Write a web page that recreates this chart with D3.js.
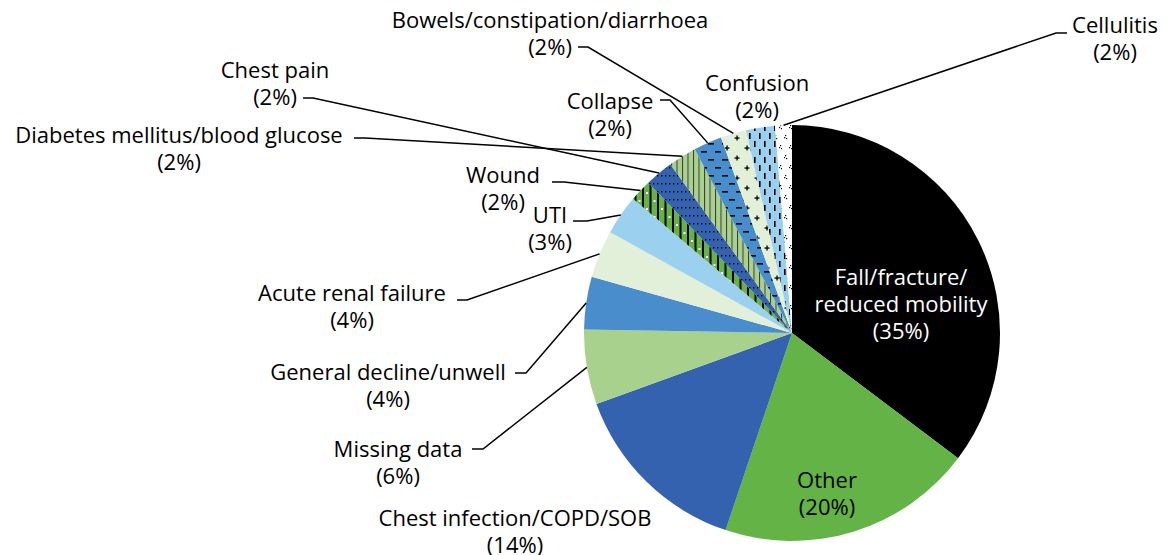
<!DOCTYPE html>
<html>
<head>
<meta charset="utf-8">
<script src="https://cdn.jsdelivr.net/npm/d3@7"></script>
<style>
  html, body { margin: 0; padding: 0; background: #fff; }
  svg { display: block; }
  text { font-family: "Open Sans", "Noto Sans", sans-serif; font-size: 22px; }
</style>
</head>
<body>
<div id="chart"></div>
<script>
// ---------- data ----------
const categories = [
  "Fall/fracture/reduced mobility", "Other", "Chest infection/COPD/SOB", "Missing data",
  "General decline/unwell", "Acute renal failure", "UTI", "Wound", "Chest pain",
  "Diabetes mellitus/blood glucose", "Collapse", "Bowels/constipation/diarrhoea",
  "Confusion", "Cellulitis"
];
const values = [35.3, 19.9, 14.3, 5.8, 4.1, 3.7, 3.1, 1.7, 2.2, 2.2, 2.2, 2.0, 2.25, 1.3];
const pctLabels = ["35%", "20%", "14%", "6%", "4%", "4%", "3%", "2%", "2%", "2%", "2%", "2%", "2%", "2%"];
// label text lines (category text split as in the reference)
const labelLines = [
  ["Fall/fracture/", "reduced mobility"], ["Other"], ["Chest infection/COPD/SOB"], ["Missing data"],
  ["General decline/unwell"], ["Acute renal failure"], ["UTI"], ["Wound"], ["Chest pain"],
  ["Diabetes mellitus/blood glucose"], ["Collapse"], ["Bowels/constipation/diarrhoea"],
  ["Confusion"], ["Cellulitis"]
];

// ---------- layout / style ----------
const W = 1167, H = 555;
const cx = 792, cy = 333, R = 208;
const fills = [
  "#000000", "#63b346", "#3462ae", "#a9d18e", "#4a8dcc", "#e2f0d9", "#9bd0ef",
  "url(#pWound)", "url(#pChest)", "url(#pDiab)", "url(#pColl)", "url(#pBow)", "url(#pConf)", "url(#pCell)"
];
// label placement: [centre x, first line centre y, colour], leader: [startX, startY, elbowX] or null
const labelPos = [
  [901, 277, "#fff"], [827, 480, "#000"], [515, 518, "#000"], [398, 449, "#000"],
  [388, 372, "#000"], [352, 293, "#000"], [550, 215, "#000"], [503, 175, "#000"],
  [275, 70, "#000"], [179, 135, "#000"], [610, 101, "#000"], [550, 20, "#000"],
  [757, 83, "#000"], [1115, 25, "#000"]
];
const leaders = [
  null, null, null, [472, 449, 483], [515, 373, 526], [457, 300, 467], [573, 221, 587],
  [552, 182, 564], [303, 98, 313], [354, 138, 365], [660, 100, 670], [578, 47, 588],
  null, [1067, 33, 1056]
];
const lineGap = 27;

const svg = d3.select("#chart").append("svg").attr("width", W).attr("height", H);
const defs = svg.append("defs");

function pattern(id, w, h, bg) {
  const p = defs.append("pattern").attr("id", id).attr("patternUnits", "userSpaceOnUse")
    .attr("width", w).attr("height", h);
  p.append("rect").attr("width", w).attr("height", h).attr("fill", bg);
  return p;
}
// Wound: green, black vertical lines, white dots
{
  const p = pattern("pWound", 15, 16, "#63b346");
  p.append("rect").attr("x", 0).attr("y", 0).attr("width", 2).attr("height", 16).attr("fill", "#000");
  p.append("rect").attr("x", 7.5).attr("y", 0).attr("width", 2).attr("height", 16).attr("fill", "#000");
  p.append("rect").attr("x", 4).attr("y", 3).attr("width", 2).attr("height", 2).attr("fill", "#fff");
  p.append("rect").attr("x", 11.5).attr("y", 11).attr("width", 2).attr("height", 2).attr("fill", "#fff");
}
// Chest pain: dark blue with small black dots
{
  const p = pattern("pChest", 4, 8, "#3462ae");
  p.append("rect").attr("x", 1).attr("y", 2).attr("width", 1.4).attr("height", 1.4).attr("fill", "#000");
}
// Diabetes: light green with dark vertical lines
{
  const p = pattern("pDiab", 5.5, 10, "#a9d18e");
  p.append("rect").attr("x", 0).attr("y", 0).attr("width", 1).attr("height", 10).attr("fill", "#3a3a3a");
}
// Collapse: blue with horizontal dashes
{
  const p = pattern("pColl", 14, 16, "#4a8dcc");
  p.append("rect").attr("x", 0).attr("y", 2).attr("width", 6).attr("height", 1.6).attr("fill", "#000");
  p.append("rect").attr("x", 7).attr("y", 10).attr("width", 6).attr("height", 1.6).attr("fill", "#000");
}
// Bowels: very light green with plus signs
{
  const p = pattern("pBow", 20, 20, "#e2f0d9");
  [[5, 5], [15, 15]].forEach(([x, y]) => {
    p.append("rect").attr("x", x - 2.5).attr("y", y - 0.6).attr("width", 5).attr("height", 1.3).attr("fill", "#000");
    p.append("rect").attr("x", x - 0.6).attr("y", y - 2.5).attr("width", 1.3).attr("height", 5).attr("fill", "#000");
  });
}
// Confusion: light blue with vertical dashes
{
  const p = pattern("pConf", 10, 16, "#9bd0ef");
  p.append("rect").attr("x", 2).attr("y", 0).attr("width", 1.6).attr("height", 6).attr("fill", "#000");
  p.append("rect").attr("x", 7).attr("y", 8).attr("width", 1.6).attr("height", 6).attr("fill", "#000");
}
// Cellulitis: white with small black confetti
{
  const p = pattern("pCell", 10, 20, "#ffffff");
  [[3, 2], [2, 4], [4, 5], [8, 12], [7, 14], [9, 15]].forEach(([x, y]) => {
    p.append("rect").attr("x", x).attr("y", y).attr("width", 1.2).attr("height", 1.2).attr("fill", "#000");
  });
}

// ---------- pie ----------
const pie = d3.pie().sort(null).value(d => d)(values);
const arc = d3.arc().innerRadius(0).outerRadius(R);
const g = svg.append("g").attr("transform", `translate(${cx},${cy})`);
g.selectAll("path.slice").data(pie).join("path")
  .attr("class", "slice")
  .attr("d", arc)
  .attr("fill", (d, i) => fills[i]);

// ---------- leader lines ----------
pie.forEach((d, i) => {
  const L = leaders[i];
  if (!L) return;
  const a = (d.startAngle + d.endAngle) / 2;
  const ex = cx + R * Math.sin(a), ey = cy - R * Math.cos(a);
  svg.append("path")
    .attr("d", `M${L[0]},${L[1]}L${L[2]},${L[1]}L${ex},${ey}`)
    .attr("fill", "none").attr("stroke", "#000").attr("stroke-width", 1.5);
});

// ---------- labels ----------
categories.forEach((c, i) => {
  const [x, y, col] = labelPos[i];
  const lines = labelLines[i].concat([`(${pctLabels[i]})`]);
  const t = svg.append("text").attr("text-anchor", "middle").attr("fill", col);
  lines.forEach((ln, k) => {
    t.append("tspan").attr("x", x).attr("y", y + k * lineGap).attr("dy", "0.35em").text(ln);
  });
});
</script>
</body>
</html>
